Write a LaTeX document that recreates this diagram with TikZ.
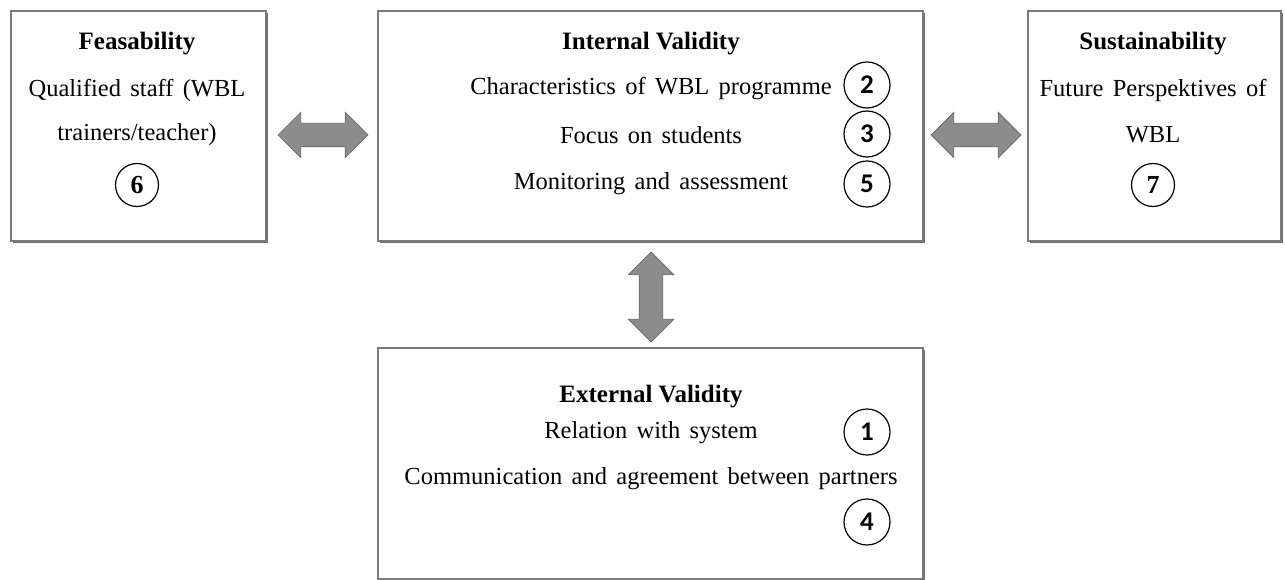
\documentclass[tikz,border=0pt]{standalone}
\usepackage{fontspec}
\setmainfont{Liberation Serif}
\newfontfamily\numfont{Carlito}
\usepackage{tikz}
\usetikzlibrary{positioning,shapes.arrows,shadows}
\definecolor{boxgray}{HTML}{7A7A7A}
\definecolor{arrowfill}{HTML}{8C8C8C}
\definecolor{arrowdraw}{HTML}{666666}
\newcommand{\wordgap}{\spaceskip=0.38em plus 0.1em\relax}

\begin{document}
\begin{tikzpicture}[
  x=1pt, y=-1pt,
  every node/.style={font=\fontsize{24.5}{29}\selectfont\wordgap},
  panel/.style={rectangle, draw=boxgray, line width=2.4pt, fill=white, anchor=north west, inner sep=0pt,
    drop shadow={shadow xshift=1.8pt, shadow yshift=-1.8pt, opacity=.8, fill=black!70}},
  paneltitle/.style={font=\bfseries\fontsize{25}{29}\selectfont},
  numcirc/.style={circle, draw, line width=1.2pt, minimum size=46pt, inner sep=0pt, font=\numfont\bfseries\fontsize{27}{27}\selectfont},
  numcircserif/.style={numcirc, minimum size=43pt, font=\bfseries\fontsize{26}{26}\selectfont},
  fatarrow/.style={double arrow, draw=arrowdraw, fill=arrowfill, line width=0.7pt, inner sep=11.5pt, minimum height=90pt, double arrow head extend=11pt, double arrow head indent=0pt}
]
\useasboundingbox (0,0) rectangle (1285,580);
% boxes
\node[panel, minimum width=255pt, minimum height=230pt] (feasbox) at (10,10) {};
\node[panel, minimum width=545pt, minimum height=230pt] (intbox) at (377,10) {};
\node[panel, minimum width=253pt, minimum height=230pt] (sustbox) at (1027,10) {};
\node[panel, minimum width=545pt, minimum height=231pt] (extbox) at (377,347) {};

% feasability
\node[paneltitle] (feastitle) at (137,44) {Feasability};
\node (feasline1) at (137,90) {Qualified staff (WBL};
\node (feasline2) at (137,135) {trainers/teacher)};
\node[numcircserif] (num6) at (137,185) {6};

% internal validity
\node[paneltitle] (inttitle) at (651,44) {Internal Validity};
\node (intline1) at (651,89) {Characteristics of WBL programme};
\node (intline2) at (651,135) {Focus on students};
\node (intline3) at (651,184) {Monitoring and assessment};
\node[numcirc] (num2) at (867,85) {2};
\node[numcirc] (num3) at (867,134) {3};
\node[numcirc] (num5) at (867,184) {5};

% sustainability
\node[paneltitle] (susttitle) at (1153,44) {Sustainability};
\node (sustline1) at (1153,90) {Future Perspektives of};
\node (sustline2) at (1153,135) {WBL};
\node[numcircserif] (num7) at (1153,185) {7};

% external validity
\node[paneltitle] (exttitle) at (651,397) {External Validity};
\node (extline1) at (651,433) {Relation with system};
\node (extline2) at (651,479) {Communication and agreement between partners};
\node[numcirc] (num1) at (867,432) {1};
\node[numcirc] (num4) at (867,522) {4};

% block arrows
\node[fatarrow] (feasint) at (323,135) {};
\node[fatarrow] (intsust) at (976,135) {};
\node[fatarrow, shape border rotate=90] (intext) at (651,297) {};
\end{tikzpicture}
\end{document}
